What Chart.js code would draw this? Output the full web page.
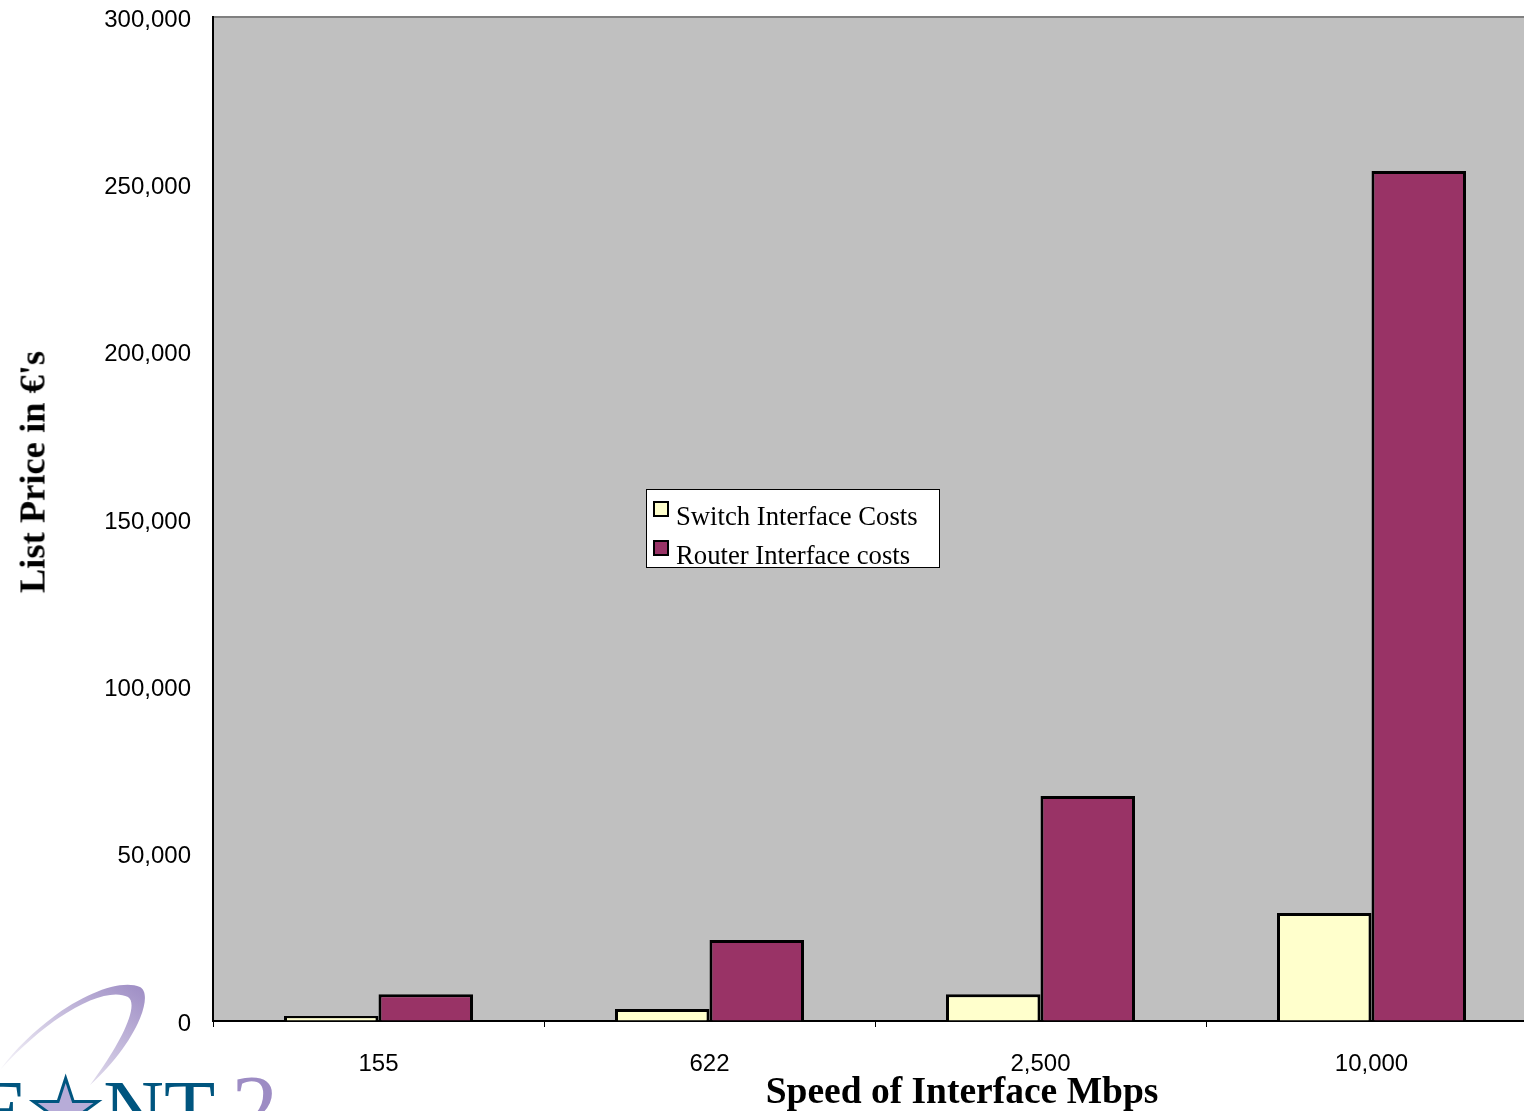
<!DOCTYPE html>
<html>
<head>
<meta charset="utf-8">
<script src="https://cdn.jsdelivr.net/npm/chart.js@4.4.1/dist/chart.umd.min.js"></script>
<style>
  html, body { margin: 0; padding: 0; background: #fff; overflow: hidden; width: 1524px; height: 1111px; }
  #wrap { position: absolute; left: 0; top: 0; width: 1540px; height: 1111px; }
  .ytitle {
    position: absolute; left: 32px; top: 472px;
    transform: translate(-50%, -50%) rotate(-90deg);
    font: bold 36.5px "Liberation Serif", serif; white-space: nowrap; color: #000;
  }
  .xtitle {
    position: absolute; left: 962px; top: 1090px;
    transform: translate(-50%, -50%);
    font: bold 37.5px "Liberation Serif", serif; white-space: nowrap; color: #000;
  }
  .logo {
    position: absolute; left: -84px; top: 1053px; line-height: 1;
    font: 84px "Liberation Serif", serif; color: #00557f; white-space: nowrap;
  }
  .logo .two { color: #9d8cc4; margin-left: 16px; font-size: 94px; }
  .logo .star { font-family: "DejaVu Sans", sans-serif; color: #b7acd8; -webkit-text-stroke: 3px #00557f; }
  .swoosh { position: absolute; left: 0; top: 975px; }
</style>
</head>
<body>
<svg class="swoosh" width="160" height="120" viewBox="0 0 160 120">
  <defs>
    <linearGradient id="g" x1="0" x2="1" y1="1" y2="0">
      <stop offset="0" stop-color="#ffffff"/>
      <stop offset="1" stop-color="#9d8cc4"/>
    </linearGradient>
  </defs>
  <path d="M0 95 C40 40 110 0 140 12 C155 20 135 70 90 110 C120 70 140 30 128 22 C105 10 50 40 0 95 Z" fill="url(#g)"/>
</svg>
<div class="logo">GE<span class="star">★</span>NT<span class="two">2</span></div>
<div id="wrap"><canvas id="chart" width="1540" height="1111"></canvas></div>
<div class="ytitle">List Price in €'s</div>
<div class="xtitle">Speed of Interface Mbps</div>
<script>
const categories = ["155", "622", "2,500", "10,000"];
const switchCosts = [1500, 3600, 8000, 32300];
const routerCosts = [8000, 24200, 67200, 254000];
const seriesNames = ["Switch Interface Costs", "Router Interface costs"];
const seriesColors = ["#FFFFCC", "#993366"];

const plotBackground = {
  id: "plotBackground",
  beforeDraw(chart) {
    const { ctx, chartArea: a } = chart;
    ctx.save();
    ctx.fillStyle = "#C0C0C0";
    ctx.fillRect(a.left, a.top, a.right - a.left, a.bottom - a.top);
    ctx.strokeStyle = "#808080";
    ctx.lineWidth = 2;
    ctx.strokeRect(a.left, a.top, a.right - a.left, a.bottom - a.top);
    ctx.restore();
  },
};

const boxLegend = {
  id: "boxLegend",
  afterDraw(chart) {
    const ctx = chart.ctx;
    const x = 646, y = 489, w = 293, h = 78;
    ctx.save();
    ctx.fillStyle = "#fff";
    ctx.fillRect(x, y, w, h);
    ctx.strokeStyle = "#000";
    ctx.lineWidth = 1;
    ctx.strokeRect(x + 0.5, y + 0.5, w, h);
    ctx.font = "26.7px 'Liberation Serif', serif";
    ctx.textBaseline = "alphabetic";
    seriesNames.forEach((name, i) => {
      const sy = y + 13 + i * 39;
      ctx.fillStyle = seriesColors[i];
      ctx.fillRect(x + 8, sy, 14, 14);
      ctx.lineWidth = 2;
      ctx.strokeRect(x + 8, sy, 14, 14);
      ctx.fillStyle = "#000";
      ctx.fillText(name, x + 30, sy + 23);
    });
    ctx.restore();
  },
};

new Chart(document.getElementById("chart"), {
  type: "bar",
  data: {
    labels: categories,
    datasets: [
      {
        label: seriesNames[0],
        data: switchCosts,
        backgroundColor: seriesColors[0],
        borderColor: "#000",
        borderWidth: 3,
        categoryPercentage: 0.571,
        barPercentage: 1,
      },
      {
        label: seriesNames[1],
        data: routerCosts,
        backgroundColor: seriesColors[1],
        borderColor: "#000",
        borderWidth: 3,
        categoryPercentage: 0.571,
        barPercentage: 1,
      },
    ],
  },
  options: {
    responsive: false,
    animation: false,
    layout: { padding: { top: 17, right: 3, left: 0, bottom: 0 } },
    plugins: {
      legend: { display: false },
      tooltip: { enabled: false },
    },
    scales: {
      x: {
        afterFit: (s) => { s.height = 90; s.paddingLeft = 0; s.paddingRight = 0; },
        grid: { drawOnChartArea: false, drawTicks: true, tickLength: 6, color: "#000", offset: true },
        border: { color: "#000", width: 2 },
        ticks: { color: "#000", font: { family: "'Liberation Sans', Arial", size: 24 }, padding: 23 },
      },
      y: {
        min: 0,
        max: 300000,
        afterFit: (s) => { s.width = 213; s.paddingTop = 0; s.paddingBottom = 0; },
        grid: { drawOnChartArea: false, drawTicks: false },
        border: { color: "#000", width: 2 },
        ticks: {
          stepSize: 50000,
          color: "#000",
          padding: 22,
          labelOffset: 3,
          font: { family: "'Liberation Sans', Arial", size: 24 },
          callback: (v) => v.toLocaleString("en-US"),
        },
      },
    },
  },
  plugins: [plotBackground, boxLegend],
});
</script>
</body>
</html>
